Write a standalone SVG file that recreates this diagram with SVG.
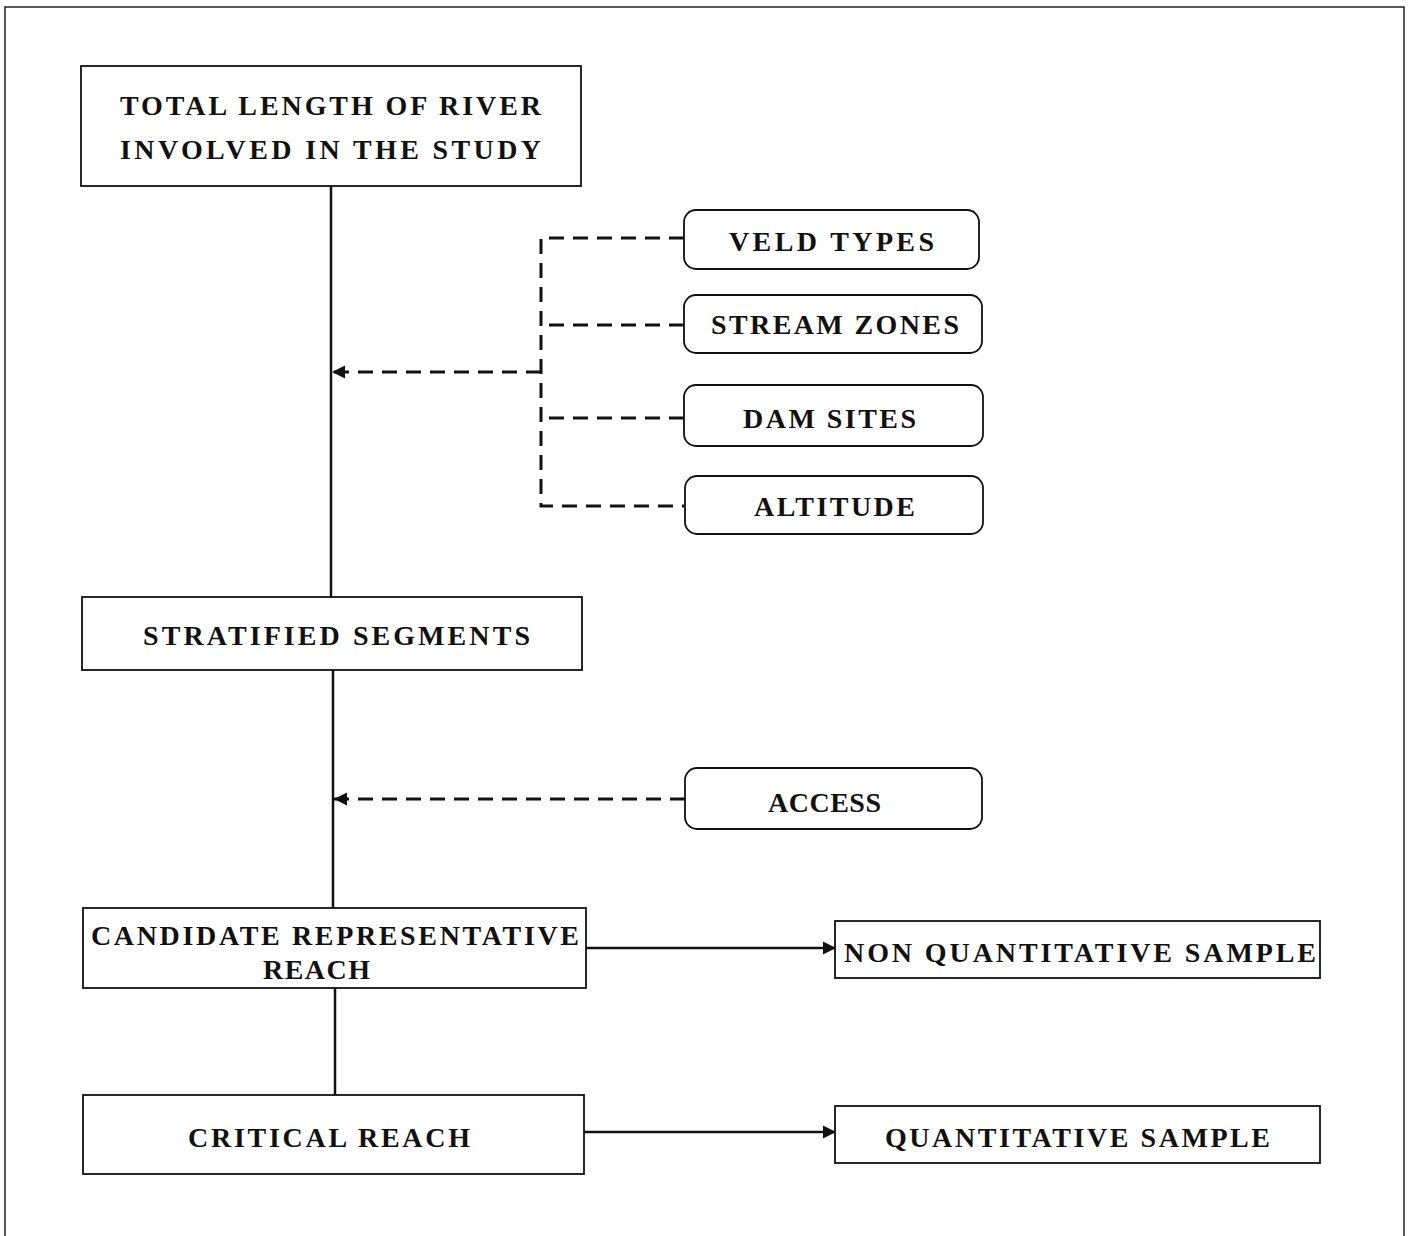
<svg xmlns="http://www.w3.org/2000/svg" width="1412" height="1236" viewBox="0 0 1412 1236">
<defs>
<style>
.box{fill:#fff;stroke:#111;stroke-width:1.8}
.t{font-family:"Liberation Serif","Times New Roman",serif;font-weight:bold;font-size:28px;fill:#111}
.ln{stroke:#111;stroke-width:2.5;fill:none}
.dl{stroke:#111;stroke-width:3;fill:none;stroke-dasharray:15,9}
</style>
<marker id="ah" viewBox="0 0 10 10" refX="10" refY="5" markerWidth="13" markerHeight="14" markerUnits="userSpaceOnUse" orient="auto"><path d="M0,0 L10,5 L0,10 Z" fill="#111"/></marker>
</defs>
<rect width="1412" height="1236" fill="#fff"/>
<path d="M5,1236 V7 H1404 V1236" fill="none" stroke="#222" stroke-width="1.5"/>
<g id="connectors">
<line class="ln" x1="331" y1="186" x2="331" y2="597"/>
<line class="ln" x1="333" y1="670" x2="333" y2="908"/>
<line class="ln" x1="335" y1="988" x2="335" y2="1095"/>
<path class="dl" d="M684,238 H541 V506 H684"/>
<line class="dl" x1="684" y1="325" x2="541" y2="325"/>
<line class="dl" x1="684" y1="418" x2="541" y2="418"/>
<line class="dl" x1="541" y1="372" x2="332" y2="372" marker-end="url(#ah)"/>
<line class="dl" x1="685" y1="799" x2="334" y2="799" marker-end="url(#ah)"/>
<line class="ln" x1="586" y1="948" x2="836" y2="948" marker-end="url(#ah)"/>
<line class="ln" x1="584" y1="1132" x2="836" y2="1132" marker-end="url(#ah)"/>
</g>
<g id="total">
<rect class="box" x="81" y="66" width="500" height="120"/>
<text class="t" x="120" y="115" textLength="421" lengthAdjust="spacing">TOTAL LENGTH OF RIVER</text>
<text class="t" x="120" y="159" textLength="421" lengthAdjust="spacing">INVOLVED IN THE STUDY</text>
</g>
<g id="veld">
<rect class="box" x="684" y="210" width="295" height="59" rx="12"/>
<text class="t" x="729" y="251" textLength="205" lengthAdjust="spacing">VELD TYPES</text>
</g>
<g id="stream">
<rect class="box" x="684" y="295" width="298" height="58" rx="12"/>
<text class="t" x="711" y="334" textLength="248" lengthAdjust="spacing">STREAM ZONES</text>
</g>
<g id="dam">
<rect class="box" x="684" y="385" width="299" height="61" rx="12"/>
<text class="t" x="743" y="428" textLength="173" lengthAdjust="spacing">DAM SITES</text>
</g>
<g id="altitude">
<rect class="box" x="685" y="476" width="298" height="58" rx="12"/>
<text class="t" x="754" y="516" textLength="161" lengthAdjust="spacing">ALTITUDE</text>
</g>
<g id="stratified">
<rect class="box" x="82" y="597" width="500" height="73"/>
<text class="t" x="143" y="645" textLength="387" lengthAdjust="spacing">STRATIFIED SEGMENTS</text>
</g>
<g id="access">
<rect class="box" x="685" y="768" width="297" height="61" rx="12"/>
<text class="t" x="768" y="812" textLength="113" lengthAdjust="spacing">ACCESS</text>
</g>
<g id="candidate">
<rect class="box" x="83" y="908" width="503" height="80"/>
<text class="t" x="91" y="945" textLength="488" lengthAdjust="spacing">CANDIDATE REPRESENTATIVE</text>
<text class="t" x="263" y="979" textLength="107" lengthAdjust="spacing">REACH</text>
</g>
<g id="critical">
<rect class="box" x="83" y="1095" width="501" height="79"/>
<text class="t" x="188" y="1147" textLength="282" lengthAdjust="spacing">CRITICAL REACH</text>
</g>
<g id="nonquant">
<rect class="box" x="835" y="921" width="485" height="57"/>
<text class="t" x="844" y="962" textLength="472" lengthAdjust="spacing">NON QUANTITATIVE SAMPLE</text>
</g>
<g id="quant">
<rect class="box" x="835" y="1106" width="485" height="57"/>
<text class="t" x="885" y="1147" textLength="385" lengthAdjust="spacing">QUANTITATIVE SAMPLE</text>
</g>
</svg>
